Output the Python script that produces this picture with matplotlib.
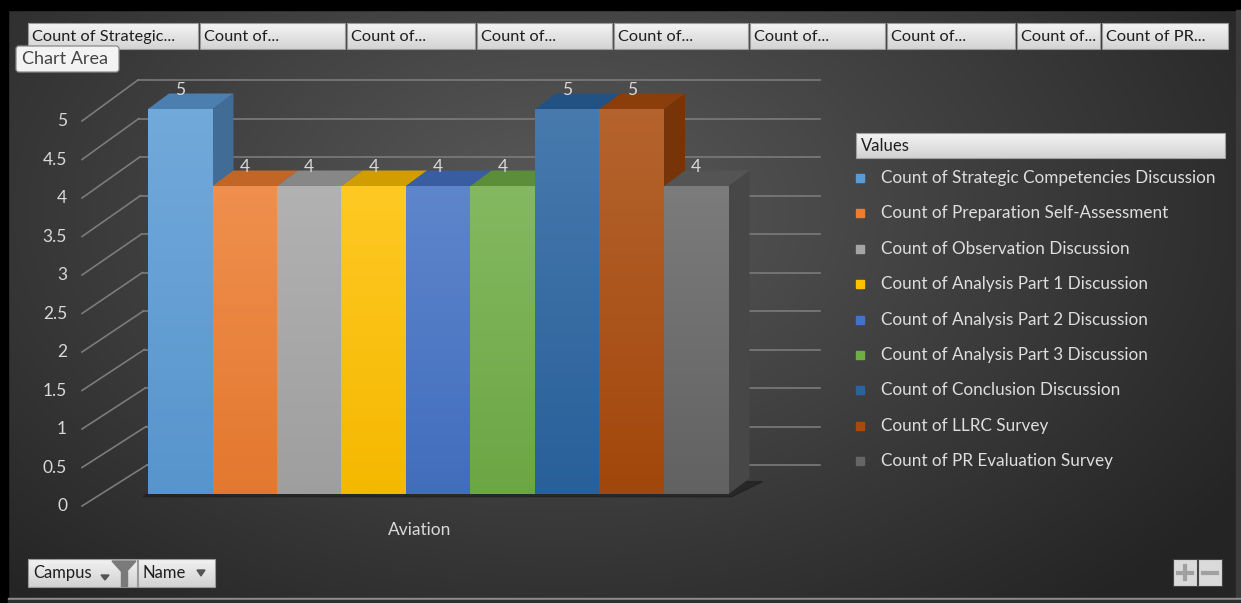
import numpy as np
import matplotlib.pyplot as plt
from matplotlib.patches import Polygon, Rectangle, FancyBboxPatch
from matplotlib.colors import to_rgb

plt.rcParams['font.family'] = ['Lato', 'DejaVu Sans']

categories = ["Aviation"]
series = [
    "Count of Strategic Competencies Discussion",
    "Count of Preparation Self-Assessment",
    "Count of Observation Discussion",
    "Count of Analysis Part 1 Discussion",
    "Count of Analysis Part 2 Discussion",
    "Count of Analysis Part 3 Discussion",
    "Count of Conclusion Discussion",
    "Count of LLRC Survey",
    "Count of PR Evaluation Survey",
]
values = [5, 4, 4, 4, 4, 4, 5, 5, 4]
colors = ["#5b9bd5", "#ed7d31", "#a5a5a5", "#ffc000", "#4472c4",
          "#70ad47", "#2a64a0", "#a94a0c", "#666666"]
field_buttons = ["Count of Strategic...", "Count of...", "Count of...", "Count of...",
                 "Count of...", "Count of...", "Count of...", "Count of...", "Count of PR..."]
y_ticks = [0, 0.5, 1, 1.5, 2, 2.5, 3, 3.5, 4, 4.5, 5]
y_labels = ["0", "0.5", "1", "1.5", "2", "2.5", "3", "3.5", "4", "4.5", "5"]

W, H = 1241, 603
fig = plt.figure(figsize=(W / 100, H / 100), dpi=100)

# background gradient
bg = fig.add_axes([0, 0, 1, 1], zorder=0)
yy, xx = np.mgrid[0:H, 0:W]
t = np.sqrt(((xx - 560) / 820.0) ** 2 + ((yy - 210) / 520.0) ** 2)
t = np.clip(t, 0, 1)[..., None]
inner = np.array(to_rgb("#5a5a5a"))
outer = np.array(to_rgb("#242424"))
bg.imshow(inner * (1 - t) + outer * t, extent=[0, W, H, 0], aspect='auto')
bg.set_xlim(0, W)
bg.set_ylim(H, 0)
bg.axis('off')

# chart axes: one bar = 1 data unit wide, front plane
X0, BARW, Y0, UNIT = 148, 64.5, 494, 77
ax = fig.add_axes([0, 0, 1, 1], zorder=1)
ax.patch.set_alpha(0)
ax.axis('off')
DX, DY = 21 / BARW, 15.5 / UNIT
BACK = 29 / UNIT
n = len(values)
grid_c = "#7b7b7b"


def xback(v):
    return (147 - 1.8 * v - X0) / BARW


for v, lab in zip(y_ticks, y_labels):
    ax.plot([xback(v), 10.42], [v + BACK, v + BACK], color=grid_c, lw=1.2, zorder=1)
    ax.plot([(82 - X0) / BARW, xback(v)], [v - 0.156, v + BACK], color=grid_c, lw=1.2, zorder=1)
    ax.text((67 - X0) / BARW, v - 0.156, lab, ha='right', va='center',
            fontsize=12.5, color="#d9d9d9")

# floor shadow
ax.add_patch(Polygon([(-0.08, -0.035), (n + 0.05, -0.035), (n + DX + 0.2, DY * 0.8),
                      (DX, DY * 0.8)], closed=True, color="#1c1c1c", alpha=0.6, zorder=2))


def shade(c, f):
    return tuple(np.array(to_rgb(c)) * f)


def lighten(c, f):
    r = np.array(to_rgb(c))
    return tuple(r + (1 - r) * f)


bars = ax.bar(np.arange(n), values, width=1, align='edge', color=colors, linewidth=0)
for i, (v, c, b) in enumerate(zip(values, colors, bars)):
    z = 3 + i * 0.1
    ax.add_patch(Polygon([(i + 1, 0), (i + 1 + DX, DY), (i + 1 + DX, v + DY), (i + 1, v)],
                         closed=True, color=shade(c, 0.7), lw=0, zorder=z))
    ax.add_patch(Polygon([(i, v), (i + 1, v), (i + 1 + DX, v + DY), (i + DX, v + DY)],
                         closed=True, color=shade(c, 0.82), lw=0, zorder=z + 0.01))
    b.set_zorder(z + 0.02)
    top = np.array(lighten(c, 0.14))
    bot = np.array(shade(c, 0.96))
    s = np.linspace(0, 1, 64)[:, None, None]
    grad = top * (1 - s) + bot * s
    im = ax.imshow(grad, extent=[i, i + 1, 0, v], aspect='auto', zorder=z + 0.03)
    im.set_clip_path(b)
    ax.text(i + 0.5, v + DY - 0.02, str(v), ha='center', va='baseline',
            fontsize=12.5, color="#d9d9d9", zorder=10)

ax.set_xlim(-X0 / BARW, (W - X0) / BARW)
ax.set_ylim((Y0 - H) / UNIT, Y0 / UNIT)

# overlay in pixel coordinates
ui = fig.add_axes([0, 0, 1, 1], zorder=2)
ui.patch.set_alpha(0)
ui.set_xlim(0, W)
ui.set_ylim(H, 0)
ui.axis('off')


def grad_rect(x0, y0, x1, y1, c_top, c_bot, edge, z=3):
    s = np.linspace(0, 1, 32)[:, None, None]
    g = np.array(to_rgb(c_top)) * (1 - s) + np.array(to_rgb(c_bot)) * s
    ui.imshow(g, extent=[x0, x1, y1, y0], aspect='auto', zorder=z)
    ui.add_patch(Rectangle((x0, y0), x1 - x0, y1 - y0, fill=False, ec=edge, lw=0.8, zorder=z + 0.1))


# border
ui.add_patch(Rectangle((0, 0), W, 10, color="black", zorder=5))
ui.add_patch(Rectangle((0, 0), 8, H, color="black", zorder=5))
ui.add_patch(Rectangle((1236, 10), 5, H, color="#3a3a3a", zorder=5))
ui.add_patch(Rectangle((8, 598), W, 2, color="#8c8c8c", zorder=5))
ui.add_patch(Rectangle((8, 600), W, 3, color="#2e2e2e", zorder=5))

# field buttons
bx = [(28, 198), (200, 345), (347, 475), (477, 612), (614, 748),
      (750, 885), (887, 1015), (1017, 1100), (1102, 1228)]
for (x0, x1), lab in zip(bx, field_buttons):
    grad_rect(x0, 23, x1, 49, "#f4f4f4", "#d4d4d4", "#9a9a9a")
    ui.text(x0 + 4, 37, lab, ha='left', va='center', fontsize=11.8, color="#1e1e1e", zorder=4)

# tooltip
ui.add_patch(FancyBboxPatch((16, 46), 103, 26, boxstyle="round,pad=0,rounding_size=3",
                            fc="#f3f3f3", ec="#8a8a8a", lw=0.9, zorder=6))
ui.text(22, 59, "Chart Area", ha='left', va='center', fontsize=13, color="#444444", zorder=7)

# category label
ui.text(420, 530, categories[0], ha='center', va='center', fontsize=12.5, color="#d9d9d9")

# legend
grad_rect(856, 133, 1225, 158, "#f4f4f4", "#d2d2d2", "#a0a0a0")
ui.text(861, 146, "Values", ha='left', va='center', fontsize=12, color="#1e1e1e", zorder=4)
for k, (lab, c) in enumerate(zip(series, colors)):
    yc = 178 + k * 35.4
    ui.add_patch(Rectangle((856, yc - 4), 8, 8, color=c, zorder=4))
    ui.text(881, yc, lab, ha='left', va='center', fontsize=12.3, color="#dedede", zorder=4)

# bottom filter buttons
grad_rect(28, 559, 137, 587, "#f2f2f2", "#d2d2d2", "#9a9a9a")
ui.text(33, 573, "Campus", ha='left', va='center', fontsize=12, color="#1e1e1e", zorder=4)
ui.add_patch(Polygon([(101, 575), (109, 575), (105, 580)], closed=True, color="#555555", zorder=4))
ui.add_patch(Polygon([(112, 561), (136, 561), (127, 571), (121, 571)], closed=True, color="#7a7a7a", zorder=4))
ui.add_patch(Rectangle((121, 571), 6, 15, color="#7a7a7a", zorder=4))
grad_rect(138, 559, 215, 587, "#f2f2f2", "#d2d2d2", "#9a9a9a")
ui.text(143, 573, "Name", ha='left', va='center', fontsize=12, color="#1e1e1e", zorder=4)
ui.add_patch(Polygon([(197, 570), (205, 570), (201, 576)], closed=True, color="#555555", zorder=4))

# +/- buttons
for x0 in (1173, 1198):
    ui.add_patch(Rectangle((x0, 559), 24, 27, fc="#dadada", ec="#444444", lw=0.8, zorder=4))
ui.plot([1178, 1192], [572.5, 572.5], color="#a0a0a0", lw=3, zorder=5)
ui.plot([1185, 1185], [566, 579], color="#a0a0a0", lw=3, zorder=5)
ui.plot([1203, 1217], [572.5, 572.5], color="#a0a0a0", lw=3, zorder=5)

fig.savefig("out.png", dpi=100)
